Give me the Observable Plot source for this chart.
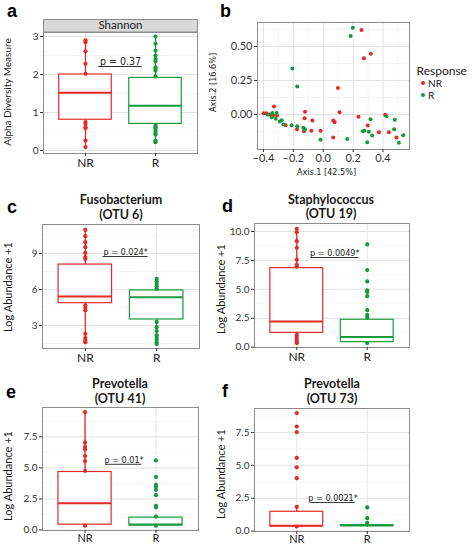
<!DOCTYPE html>
<html><head><meta charset="utf-8">
<script src="https://cdn.jsdelivr.net/npm/d3@7"></script>
<script src="https://cdn.jsdelivr.net/npm/@observablehq/plot@0.6"></script>
<style>
html,body{margin:0;padding:0;background:#fff}
#fig{position:relative;width:472px;height:546px;overflow:hidden;background:#fff}
#fig svg{display:block}
</style></head>
<body><div id="fig"></div>
<script>
const RED = "#e32a26", GREEN = "#17993d";
const groups = ["NR", "R"];
const groupPos = [1, 2];

// ---- panel a : Shannon alpha diversity ----
const shannonQ1 = [0.81, 0.70], shannonMed = [1.52, 1.18], shannonQ3 = [2.00, 1.91];
const shannonLo = [0.09, 0.22], shannonHi = [2.90, 3.00];
const shannonNR = [2.90, 2.85, 2.61, 2.28, 2.02, 0.75, 0.70, 0.61, 0.59, 0.26, 0.09];
const shannonR = [3.00, 2.81, 2.63, 2.50, 2.41, 2.34, 2.19, 2.15, 2.10, 1.95, 0.66, 0.61, 0.57, 0.51, 0.46, 0.42, 0.26, 0.22];
const shannonTicks = [0, 1, 2, 3], shannonMinor = [0.5, 1.5, 2.5];
const shannonP = "p = 0.37", shannonPLine = [1.19, 1.81, 2.21];

// ---- panel b : PCoA ----
const pcoaNRx = [-0.399, -0.381, -0.359, -0.330, -0.336, -0.310, -0.252, -0.176, -0.129, -0.122, -0.125, -0.073, -0.080, -0.018, 0.098, 0.109, 0.067, 0.076, 0.067, 0.236, 0.298, 0.372, 0.256, 0.272, 0.318, 0.414, 0.439, 0.490];
const pcoaNRy = [0.010, 0.010, 0.000, 0.059, -0.007, -0.007, -0.078, -0.108, -0.123, 0.020, -0.027, -0.044, -0.120, -0.120, 0.194, 0.017, -0.044, -0.056, -0.169, -0.017, -0.081, -0.130, 0.620, 0.414, 0.446, -0.002, -0.130, -0.169];
const pcoaRx = [0.198, 0.183, -0.207, -0.174, -0.372, -0.341, -0.312, -0.345, -0.318, -0.292, -0.278, -0.267, -0.212, -0.174, -0.134, -0.122, -0.018, 0.160, 0.316, 0.265, 0.276, 0.305, 0.327, 0.294, 0.423, 0.479, 0.474, 0.535, 0.506];
const pcoaRy = [0.637, 0.576, 0.338, 0.206, 0.000, 0.012, 0.012, -0.020, -0.032, -0.051, -0.042, -0.074, -0.078, -0.086, -0.098, -0.108, -0.186, -0.179, -0.034, -0.123, -0.120, -0.127, -0.154, -0.203, -0.012, -0.039, -0.108, -0.152, -0.208];
const pcoaXTicks = [-0.4, -0.2, 0, 0.2, 0.4], pcoaXMinor = [-0.3, -0.1, 0.1, 0.3, 0.5];
const pcoaYTicks = [0, 0.25, 0.5], pcoaYMinor = [-0.125, 0.125, 0.375, 0.625];

// ---- panel c : Fusobacterium (OTU 6) ----
const fusoQ1 = [4.86, 3.50], fusoMed = [5.42, 5.36], fusoQ3 = [8.08, 5.92];
const fusoLo = [1.60, 1.45], fusoHi = [10.97, 6.89];
const fusoNR = [10.97, 10.45, 9.95, 9.53, 9.05, 8.70, 8.55, 4.67, 4.47, 4.25, 2.30, 1.95, 1.75, 1.60];
const fusoR = [6.89, 6.67, 6.47, 6.28, 6.06, 3.30, 2.86, 2.53, 2.17, 1.97, 1.80, 1.60, 1.45];
const fusoTicks = [3, 6, 9], fusoMinor = [1.5, 4.5, 7.5, 10.5];
const fusoP = "p = 0.024*", fusoPLine = [1.25, 1.88, 8.75];

// ---- panel d : Staphylococcus (OTU 19) ----
const staphQ1 = [1.24, 0.43], staphMed = [2.22, 0.87], staphQ3 = [6.83, 2.37];
const staphLo = [0.35, 0.35], staphHi = [10.23, 2.80];
const staphNR = [10.23, 9.94, 9.16, 8.59, 7.55, 7.12, 6.97, 1.07, 0.87, 0.67, 0.43, 0.35];
const staphR = [8.88, 6.66, 5.68, 4.90, 4.76, 4.41, 3.20, 2.80, 2.57, 0.35];
const staphTicks = [0, 2.5, 5, 7.5, 10], staphMinor = [1.25, 3.75, 6.25, 8.75];
const staphP = "p = 0.0049*", staphPLine = [1.2, 1.88, 7.75];

// ---- panel e : Prevotella (OTU 41) ----
const prev41Q1 = [0.43, 0.37], prev41Med = [2.16, 0.45], prev41Q3 = [4.67, 1.00];
const prev41Lo = [0.35, 0.35], prev41Hi = [9.48, 1.07];
const prev41NR = [9.48, 7.03, 6.68, 6.49, 5.95, 5.55, 4.75, 0.35];
const prev41R = [5.60, 4.27, 3.63, 3.47, 3.23, 2.80, 1.95, 1.82, 1.07, 0.35];
const prev41Ticks = [0, 2.5, 5, 7.5], prev41Minor = [1.25, 3.75, 6.25, 8.75];
const prev41P = "p = 0.01*", prev41PLine = [1.30, 1.80, 5.29];

// ---- panel f : Prevotella (OTU 73) ----
const prev73Q1 = [0.36, 0.40], prev73Med = [0.40, 0.43], prev73Q3 = [1.47, 0.45];
const prev73Lo = [0.35, 0.40], prev73Hi = [1.85, 0.45];
const prev73NR = [8.97, 7.95, 7.53, 5.56, 4.85, 4.02, 1.85, 0.35];
const prev73R = [1.80, 0.98, 0.63, 0.50];
const prev73Ticks = [0, 2.5, 5, 7.5], prev73Minor = [1.25, 3.75, 6.25, 8.75];
const prev73P = "p = 0.0021*", prev73PLine = [1.2, 1.83, 2.17];

const FONT = "Lato, 'Open Sans', sans-serif";
const PFONT = "'DejaVu Sans Condensed', 'Liberation Sans Narrow', Lato, sans-serif";
const fig = document.getElementById("fig");
function place(el, left, top) {
  const d = document.createElement("div");
  d.style.position = "absolute"; d.style.left = left + "px"; d.style.top = top + "px";
  d.appendChild(el); fig.appendChild(d);
}
const baseStyle = {background: "transparent", fontFamily: FONT, fontSize: "10px", color: "#333", overflow: "visible"};

function boxPanel(o) {
  const boxes = groups.map((g, i) => ({g, x: groupPos[i], q1: o.q1[i], med: o.med[i], q3: o.q3[i], lo: o.lo[i], hi: o.hi[i]}));
  const pts = [...o.nr.map(v => ({g: "NR", x: 1, y: v})), ...o.r.map(v => ({g: "R", x: 2, y: v}))];
  const ann = [{x1: o.pl[0], x2: o.pl[1], y: o.pl[2], xm: (o.pl[0] + o.pl[1]) / 2, t: o.p}];
  const hw = 0.375;
  return Plot.plot({
    width: o.w, height: o.h, marginLeft: o.ml, marginRight: o.mr, marginTop: o.mt, marginBottom: o.mb,
    style: baseStyle,
    x: {type: "linear", domain: [0.4, 2.6]},
    y: {domain: o.yd},
    color: {domain: groups, range: [RED, GREEN]},
    marks: [
      Plot.gridY(o.minor, {stroke: "#f0f0f0", strokeOpacity: 1, strokeWidth: 0.7}),
      Plot.gridY(o.ticks, {stroke: "#e2e2e2", strokeOpacity: 1}),
      Plot.gridX(groupPos, {stroke: "#e6e6e6", strokeOpacity: 1}),
      Plot.ruleX(boxes, {x: "x", y1: "lo", y2: "hi", stroke: "g", strokeWidth: 1.3}),
      Plot.rect(boxes, {x1: d => d.x - hw, x2: d => d.x + hw, y1: "q1", y2: "q3", fill: "white", stroke: "g", strokeWidth: 1.2, inset: 0}),
      Plot.ruleY(boxes, {y: "med", x1: d => d.x - hw, x2: d => d.x + hw, stroke: "g", strokeWidth: 2}),
      Plot.dot(pts, {x: "x", y: "y", fill: "g", r: 2.1}),
      Plot.ruleY(ann, {y: "y", x1: "x1", x2: "x2", stroke: "#333", strokeWidth: 1}),
      Plot.text(ann, {x: "xm", y: "y", text: "t", lineAnchor: "bottom", dy: -1.5, fontFamily: PFONT, fontSize: o.pfs || 9, fill: "#222"}),
      Plot.frame({stroke: "#8c8c8c"}),
      Plot.axisY(o.ticks, {tickSize: 3, tickPadding: 2, tickFormat: o.fmt, label: null, fontSize: 10}),
      Plot.axisX(groupPos, {tickSize: 3, tickPadding: o.xpad ?? 2, tickFormat: d => groups[d - 1], label: null, fontSize: o.xfs || 12, fill: "#222"})
    ]
  });
}

// panel a
place(boxPanel({q1: shannonQ1, med: shannonMed, q3: shannonQ3, lo: shannonLo, hi: shannonHi, nr: shannonNR, r: shannonR,
  ticks: shannonTicks, minor: shannonMinor, fmt: d3.format("d"), yd: [-0.079, 3.105], p: shannonP, pl: shannonPLine, pfs: 10.5,
  w: 212, h: 176, ml: 43, mr: 15, mt: 32, mb: 23}), 0, 0);

// panel b
{
  const pts = [...pcoaNRx.map((x, i) => ({g: "NR", x, y: pcoaNRy[i]})), ...pcoaRx.map((x, i) => ({g: "R", x, y: pcoaRy[i]}))];
  const b = Plot.plot({
    width: 266, height: 182, marginLeft: 51, marginRight: 63, marginTop: 22, marginBottom: 33,
    style: baseStyle,
    x: {domain: [-0.44, 0.577]},
    y: {domain: [-0.257, 0.676]},
    color: {domain: groups, range: [RED, GREEN]},
    marks: [
      Plot.gridX(pcoaXMinor, {stroke: "#f0f0f0", strokeOpacity: 1, strokeWidth: 0.7}),
      Plot.gridY(pcoaYMinor, {stroke: "#f0f0f0", strokeOpacity: 1, strokeWidth: 0.7}),
      Plot.gridX(pcoaXTicks, {stroke: "#e2e2e2", strokeOpacity: 1}),
      Plot.gridY(pcoaYTicks, {stroke: "#e2e2e2", strokeOpacity: 1}),
      Plot.dot(pts, {x: "x", y: "y", fill: "g", r: 2}),
      Plot.frame({stroke: "#8c8c8c"}),
      Plot.axisX(pcoaXTicks, {tickSize: 3, tickPadding: 2, tickFormat: d3.format(".1f"), label: null, fontSize: 11}),
      Plot.axisY(pcoaYTicks, {tickSize: 3, tickPadding: 2, tickFormat: d3.format(".2f"), label: null, fontSize: 11})
    ]
  });
  place(b, 206, 0);
}

// panel c
place(boxPanel({q1: fusoQ1, med: fusoMed, q3: fusoQ3, lo: fusoLo, hi: fusoHi, nr: fusoNR, r: fusoR,
  ticks: fusoTicks, minor: fusoMinor, fmt: d3.format("d"), yd: [1.08, 11.42], p: fusoP, pl: fusoPLine,
  w: 212, h: 186, ml: 42, mr: 13, mt: 44, mb: 18}), 0, 180);
// panel d
place(boxPanel({q1: staphQ1, med: staphMed, q3: staphQ3, lo: staphLo, hi: staphHi, nr: staphNR, r: staphR,
  ticks: staphTicks, minor: staphMinor, fmt: d3.format(".1f"), yd: [-0.03, 10.69], p: staphP, pl: staphPLine,
  w: 260, h: 186, ml: 42, mr: 63, mt: 43, mb: 19}), 212, 180);
// panel e
place(boxPanel({q1: prev41Q1, med: prev41Med, q3: prev41Q3, lo: prev41Lo, hi: prev41Hi, nr: prev41NR, r: prev41R,
  ticks: prev41Ticks, minor: prev41Minor, fmt: d3.format(".1f"), yd: [-0.04, 9.86], p: prev41P, pl: prev41PLine,
  xfs: 11, xpad: 1, w: 212, h: 181, ml: 42, mr: 14, mt: 43, mb: 15}), 0, 364);
// panel f
place(boxPanel({q1: prev73Q1, med: prev73Med, q3: prev73Q3, lo: prev73Lo, hi: prev73Hi, nr: prev73NR, r: prev73R,
  ticks: prev73Ticks, minor: prev73Minor, fmt: d3.format(".1f"), yd: [-0.03, 9.32], p: prev73P, pl: prev73PLine,
  xfs: 11, xpad: 1, w: 260, h: 181, ml: 42, mr: 63, mt: 44, mb: 14}), 212, 364);

// ---- overlay: panel letters, titles, axis titles, strip, legend ----
const ov = d3.select(fig).append("svg").attr("width", 472).attr("height", 546)
  .style("position", "absolute").style("left", "0px").style("top", "0px").style("pointer-events", "none");
ov.append("rect").attr("x", 43.5).attr("y", 19.5).attr("width", 154).attr("height", 12.5)
  .attr("fill", "#d9d9d9").attr("stroke", "#8c8c8c");
function txt(x, y, s, o = {}) {
  const t = ov.append("text").attr("x", x).attr("y", y).text(s)
    .attr("font-family", o.family || FONT).attr("font-size", o.size || 11)
    .attr("font-weight", o.weight || "normal").attr("fill", o.fill || "#1a1a1a")
    .attr("text-anchor", o.anchor || "middle");
  if (o.rotate) t.attr("transform", `rotate(-90 ${x} ${y})`);
  return t;
}
const letters = [["a", 7, 16.5], ["b", 220, 16.8], ["c", 7, 212.5], ["d", 222, 212], ["e", 6, 397.5], ["f", 222, 397]];
letters.forEach(([s, x, y]) => txt(x, y, s, {family: "'Liberation Sans', Arial, sans-serif", size: 18, weight: "bold", anchor: "start", fill: "#000"}));
txt(120.5, 29.3, "Shannon", {size: 11.5});
const titles = [["Fusobacterium", "(OTU 6)", 121, 204, 218.5], ["Staphylococcus", "(OTU 19)", 331, 203.5, 218],
  ["Prevotella", "(OTU 41)", 120, 387.5, 403], ["Prevotella", "(OTU 73)", 332, 387.5, 403]];
titles.forEach(([t1, t2, x, y1, y2]) => { txt(x, y1, t1, {size: 12.5, weight: "bold"}); txt(x, y2, t2, {size: 12.5, weight: "bold"}); });
txt(10.5, 92, "Alpha Diversity Measure", {size: 10, rotate: true});
const ylabs = [[11.5, 287], [225, 289], [11.5, 476], [225, 474]];
ylabs.forEach(([x, y]) => txt(x, y, "Log Abundance +1", {size: 11, rotate: true}));
txt(216, 82.5, "Axis.2 [16.6%]", {family: PFONT, size: 9, rotate: true});
txt(326.5, 175, "Axis.1 [42.5%]", {family: PFONT, size: 9});
txt(416.5, 74.5, "Response", {size: 12, anchor: "start"});
txt(428, 86.5, "NR", {size: 10, anchor: "start"});
txt(428, 98.5, "R", {size: 10, anchor: "start"});
ov.append("circle").attr("cx", 423).attr("cy", 83).attr("r", 2).attr("fill", RED);
ov.append("circle").attr("cx", 423).attr("cy", 95).attr("r", 2).attr("fill", GREEN);
</script></body></html>
